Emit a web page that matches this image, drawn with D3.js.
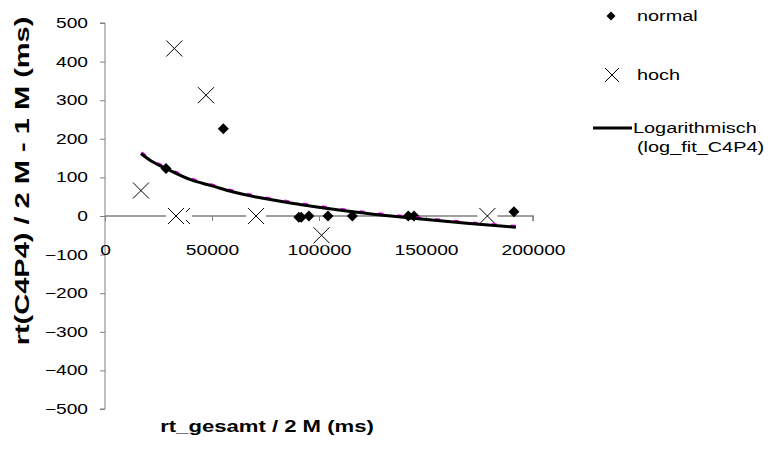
<!DOCTYPE html>
<html><head><meta charset="utf-8">
<script src="https://cdn.jsdelivr.net/npm/d3@7"></script>
<style>body{margin:0;background:#fff}svg{display:block}text{font-family:"Liberation Sans",Arial,sans-serif}</style>
</head><body><svg id="c" width="772" height="463"></svg>
<script>
// data
const normalX = [28500, 55300, 90600, 91700, 95300, 104200, 115600, 141700, 144400, 191100];
const normalY = [123, 226, -3, -3, 0, 0, 0, 0, 0, 11];
const hochX = [16800, 32400, 47200, 36000, 33200, 70600, 101200, 178700];
const hochY = [66, 434, 313, 0, 0, 0, -50, 0];
const fitX = [16800, 22000, 28500, 40000, 50000, 60000, 70600, 91100, 112900, 130000, 142500, 169000, 192000];
const fitY = [162, 141, 123, 94, 78, 62, 49, 30, 13, 2, -5, -19, -29];
const xTicks = [0, 50000, 100000, 150000, 200000];
const yTicks = [500, 400, 300, 200, 100, 0, -100, -200, -300, -400, -500];

const svg = d3.select("#c");
const x = d3.scaleLinear().domain([0, 200000]).range([105, 533]);
const y = d3.scaleLinear().domain([-500, 500]).range([409, 23]);
const axisCol = "#808080";
const stretch = 1.37;
function widen(sel, f) {
  sel.each(function () {
    const w = this.getComputedTextLength();
    d3.select(this).attr("textLength", w * (f || stretch)).attr("lengthAdjust", "spacingAndGlyphs");
  });
}

// y axis
const ya = svg.append("g").attr("transform", `translate(${x(0)},0)`)
  .call(d3.axisLeft(y).tickValues(yTicks).tickSize(5).tickPadding(12).tickFormat(d3.format("d")));
ya.select(".domain").attr("stroke", axisCol).attr("d", `M-5,${y(500)}H0V${y(-500)}H-5`);
ya.selectAll(".tick line").attr("stroke", axisCol);
ya.selectAll(".tick text").attr("font-size", 14).attr("fill", "#000").call(widen);

// x axis
const xa = svg.append("g").attr("transform", `translate(0,${y(0)})`)
  .call(d3.axisBottom(x).tickValues(xTicks).tickSize(5).tickPadding(24).tickFormat(d3.format("d")));
xa.select(".domain").attr("stroke", axisCol).attr("stroke-width", 1.5).attr("d", `M${x(0)},0H${x(200000)}V5`);
xa.selectAll(".tick line").attr("stroke", axisCol);
xa.selectAll(".tick text").attr("font-size", 14).attr("fill", "#000").call(widen);

// normal diamonds
const dia = "M0,-5.5L5.5,0L0,5.5L-5.5,0Z";
svg.append("g").selectAll("path").data(normalX.map((d, i) => [d, normalY[i]])).join("path")
  .attr("d", dia).attr("transform", d => `translate(${x(d[0])},${y(d[1])})`).attr("fill", "#000");

// hoch crosses (white background box like the reference)
const hg = svg.append("g");
hochX.forEach((d, i) => {
  const g = hg.append("g").attr("transform", `translate(${x(d)},${y(hochY[i])})`);
  g.append("rect").attr("x", -10).attr("y", -10).attr("width", 20).attr("height", 20).attr("fill", "#fff");
  g.append("path").attr("d", "M-8,-8L8,8M-8,8L8,-8").attr("stroke", "#000").attr("stroke-width", 1);
});

// trend line
const line = d3.line().x(d => x(d[0])).y(d => y(d[1])).curve(d3.curveMonotoneX);
const fitPts = fitX.map((d, i) => [d, fitY[i]]);
svg.append("path").datum(fitPts).attr("d", line).attr("fill", "none")
  .attr("stroke", "#ff00ff").attr("stroke-width", 2).attr("stroke-dasharray", "5,14")
  .attr("transform", "translate(0.8,-1.3)");
svg.append("path").datum(fitPts).attr("d", line).attr("fill", "none")
  .attr("stroke", "#000").attr("stroke-width", 3);

// axis titles
svg.append("text").attr("x", 267).attr("y", 432).attr("text-anchor", "middle")
  .attr("font-size", 17).attr("font-weight", "bold").text("rt_gesamt / 2 M (ms)").call(widen, 1.3);
svg.append("text").attr("transform", "translate(29,181) rotate(-90)").attr("text-anchor", "middle")
  .attr("font-size", 20).attr("font-weight", "bold").text("rt(C4P4) / 2 M - 1 M (ms)").call(widen, 1.45);

// legend
const lg = svg.append("g");
lg.append("path").attr("d", "M0,-4.5L4.5,0L0,4.5L-4.5,0Z").attr("transform", "translate(611,16)").attr("fill", "#000");
lg.append("text").attr("x", 637).attr("y", 21).attr("font-size", 14).text("normal");
lg.append("path").attr("d", "M-7,-7L7,7M-7,7L7,-7").attr("transform", "translate(612,75)").attr("stroke", "#000");
lg.append("text").attr("x", 637).attr("y", 80).attr("font-size", 14).text("hoch");
lg.append("line").attr("x1", 593).attr("x2", 632).attr("y1", 128).attr("y2", 128).attr("stroke", "#000").attr("stroke-width", 3);
lg.append("text").attr("x", 633).attr("y", 133).attr("font-size", 14).text("Logarithmisch");
lg.append("text").attr("x", 637).attr("y", 152).attr("font-size", 14).text("(log_fit_C4P4)");
lg.selectAll("text").call(widen, 1.42);
</script></body></html>
